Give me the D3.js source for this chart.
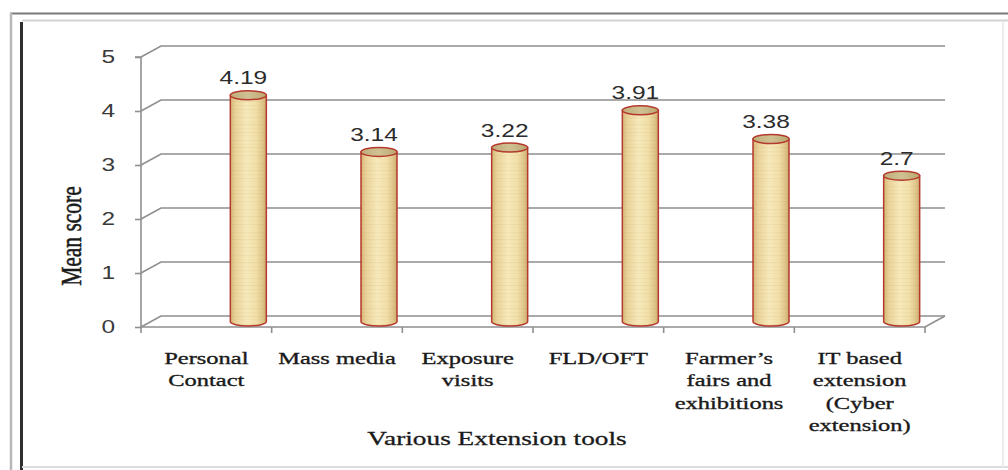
<!DOCTYPE html>
<html>
<head>
<meta charset="utf-8">
<script src="https://cdn.jsdelivr.net/npm/d3@7"></script>
<style>
  html, body { margin: 0; padding: 0; background: #ffffff; }
  svg { display: block; }
</style>
</head>
<body>
<svg id="chart" width="1008" height="470"></svg>
<script>
// Extension tools and their mean scores
const categories = [
  "Personal Contact",
  "Mass media",
  "Exposure visits",
  "FLD/OFT",
  "Farmer's fairs and exhibitions",
  "IT based extension (Cyber extension)"
];
const categoryLines = [
  ["Personal", "Contact"],
  ["Mass media"],
  ["Exposure", "visits"],
  ["FLD/OFT"],
  ["Farmer\u2019s", "fairs and", "exhibitions"],
  ["IT based", "extension", "(Cyber", "extension)"]
];
const meanScores = [4.19, 3.14, 3.22, 3.91, 3.38, 2.7];
const scoreLabels = ["4.19", "3.14", "3.22", "3.91", "3.38", "2.7"];
const yTicks = [0, 1, 2, 3, 4, 5];

const svg = d3.select("#chart");
const W = 1008, H = 470;
const stretch = 1.4;          // horizontal widening applied to all text
const depthX = 20, depthY = -11; // 3D wall offset

svg.append("rect").attr("width", W).attr("height", H).attr("fill", "#fff");

// ---- outer frame ----
const frame = svg.append("g");
frame.append("line").attr("x1", 10).attr("y1", 13.5).attr("x2", W).attr("y2", 13.5)
  .attr("stroke", "#7a7a7a").attr("stroke-width", 2);
frame.append("line").attr("x1", 22).attr("y1", 20.5).attr("x2", W).attr("y2", 20.5)
  .attr("stroke", "#d4d4d4").attr("stroke-width", 2);
frame.append("line").attr("x1", 11).attr("y1", 13).attr("x2", 11).attr("y2", H)
  .attr("stroke", "#b8b8b8").attr("stroke-width", 2.5);
frame.append("line").attr("x1", 21.5).attr("y1", 22).attr("x2", 21.5).attr("y2", H)
  .attr("stroke", "#2e2e2e").attr("stroke-width", 3);
frame.append("line").attr("x1", 22).attr("y1", 467).attr("x2", W).attr("y2", 467)
  .attr("stroke", "#dcdcdc").attr("stroke-width", 2);
frame.append("line").attr("x1", 1003).attr("y1", 21).attr("x2", 1003).attr("y2", 467)
  .attr("stroke", "#ececec").attr("stroke-width", 2);

// ---- scales ----
const x = d3.scaleBand().domain(categories).range([141, 925]).padding(0);
const y = d3.scaleLinear().domain([0, 5]).range([327, 57]);
const bw = x.bandwidth();
const x0 = x.range()[0], x1 = x.range()[1];

// ---- back wall gridlines ----
const grid = svg.append("g").attr("fill", "none").attr("stroke", "#8f8f8f").attr("stroke-width", 1.6);
grid.selectAll("path").data(yTicks).join("path")
  .attr("d", t => `M${x0},${y(t)} L${x0 + depthX},${y(t) + depthY} L${x1 + depthX},${y(t) + depthY}`);

// floor front edge and right edge
grid.append("path")
  .attr("d", `M${x0},${y(0)} L${x1},${y(0)} L${x1 + depthX},${y(0) + depthY}`);

// ---- y axis ----
const yAxis = svg.append("g").attr("transform", `translate(${x0},0)`)
  .call(d3.axisLeft(y).tickValues(yTicks).tickSize(6).tickFormat(d3.format("d")));
yAxis.select(".domain").attr("stroke", "#8f8f8f").attr("stroke-width", 1.6)
  .attr("d", `M-6,${y(5)}H0V${y(0)}`);
yAxis.selectAll(".tick line").attr("stroke", "#8f8f8f").attr("stroke-width", 1.6);
yAxis.selectAll(".tick text")
  .attr("x", -26 / stretch)
  .attr("transform", `scale(${stretch},1)`)
  .attr("font-family", "'Liberation Sans', Arial, sans-serif")
  .attr("font-size", 17.5)
  .attr("fill", "#3a3a3a");

// ---- x axis ticks at category boundaries ----
const boundaries = categories.map(c => x(c)).concat([x1]);
svg.append("g").selectAll("line").data(boundaries).join("line")
  .attr("x1", d => d).attr("x2", d => d)
  .attr("y1", y(0)).attr("y2", y(0) + 6)
  .attr("stroke", "#8f8f8f").attr("stroke-width", 1.6);

// ---- cylinder fills ----
const defs = svg.append("defs");
const bodyGrad = defs.append("linearGradient").attr("id", "bodyGrad")
  .attr("x1", "0%").attr("x2", "100%").attr("y1", "0%").attr("y2", "0%");
[["0%", "#d6b778"], ["15%", "#ead39a"], ["45%", "#f7e9bb"], ["72%", "#f1dfa8"], ["90%", "#dfc489"], ["100%", "#ccab6c"]]
  .forEach(([o, c]) => bodyGrad.append("stop").attr("offset", o).attr("stop-color", c));

const topGrad = defs.append("linearGradient").attr("id", "topGrad")
  .attr("x1", "0%").attr("x2", "100%").attr("y1", "0%").attr("y2", "0%");
[["0%", "#bfae7c"], ["50%", "#d0c193"], ["100%", "#bba870"]]
  .forEach(([o, c]) => topGrad.append("stop").attr("offset", o).attr("stop-color", c));

// faint horizontal grain over the body
const grain = defs.append("pattern").attr("id", "grain")
  .attr("patternUnits", "userSpaceOnUse").attr("width", 40).attr("height", 23);
[[2, 0.07], [6, 0.04], [9, 0.09], [13, 0.05], [17, 0.08], [20, 0.04]].forEach(([yy, op]) =>
  grain.append("rect").attr("x", 0).attr("y", yy).attr("width", 40).attr("height", 1.2)
    .attr("fill", "#a07c3a").attr("opacity", op));

// ---- cylinders ----
const rx = 18, ry = 4.5;
const barShift = 42;
const data = categories.map((c, i) => ({ c, v: meanScores[i], label: scoreLabels[i] }));
const cx = d => x(d.c) + bw / 2 + barShift;
const baseY = y(0) + depthY / 2;
const topY = d => y(d.v) + depthY / 2;

const bars = svg.append("g").selectAll("g").data(data).join("g");
const bodyPath = d => `M${cx(d) - rx},${topY(d)} L${cx(d) - rx},${baseY} A${rx},${ry} 0 0 0 ${cx(d) + rx},${baseY} L${cx(d) + rx},${topY(d)} Z`;
bars.append("path").attr("d", bodyPath).attr("fill", "url(#bodyGrad)");
bars.append("path").attr("d", bodyPath).attr("fill", "url(#grain)");
bars.append("path").attr("d", bodyPath).attr("fill", "none")
  .attr("stroke", "#b5392c").attr("stroke-width", 1.5);
bars.append("ellipse")
  .attr("cx", cx).attr("cy", topY).attr("rx", rx).attr("ry", ry)
  .attr("fill", "url(#topGrad)").attr("stroke", "#b5392c").attr("stroke-width", 1.5);

// value labels
bars.append("text")
  .attr("transform", d => `translate(${cx(d) - 5},${topY(d) - 11}) scale(${stretch},1)`)
  .attr("text-anchor", "middle")
  .attr("font-family", "'Liberation Sans', Arial, sans-serif")
  .attr("font-size", 17.5)
  .attr("fill", "#2b2b2b")
  .text(d => d.label);

// ---- category labels ----
const serif = "'Liberation Serif', 'Times New Roman', serif";
const catG = svg.append("g").selectAll("g").data(categories).join("g")
  .attr("transform", c => `translate(${x(c) + bw / 2},0)`);
catG.each(function (c, i) {
  d3.select(this).selectAll("text").data(categoryLines[i]).join("text")
    .attr("transform", (t, j) => `translate(0,${364 + j * 22.3}) scale(${stretch},1)`)
    .attr("text-anchor", "middle")
    .attr("font-family", serif)
    .attr("font-size", 17.5)
    .attr("fill", "#1a1a1a")
    .attr("stroke", "#1a1a1a")
    .attr("stroke-width", 0.35)
    .text(t => t);
});

// ---- axis titles ----
svg.append("text")
  .attr("transform", `translate(497,445) scale(${stretch},1)`)
  .attr("text-anchor", "middle")
  .attr("font-family", serif)
  .attr("font-size", 19.5)
  .attr("fill", "#1a1a1a")
  .attr("stroke", "#1a1a1a")
  .attr("stroke-width", 0.3)
  .text("Various Extension tools");

svg.append("text")
  .attr("transform", `translate(81,236) scale(${stretch},1) rotate(-90)`)
  .attr("text-anchor", "middle")
  .attr("font-family", serif)
  .attr("font-size", 21.5)
  .attr("fill", "#1a1a1a")
  .attr("stroke", "#1a1a1a")
  .attr("stroke-width", 0.4)
  .text("Mean score");
</script>
</body>
</html>
